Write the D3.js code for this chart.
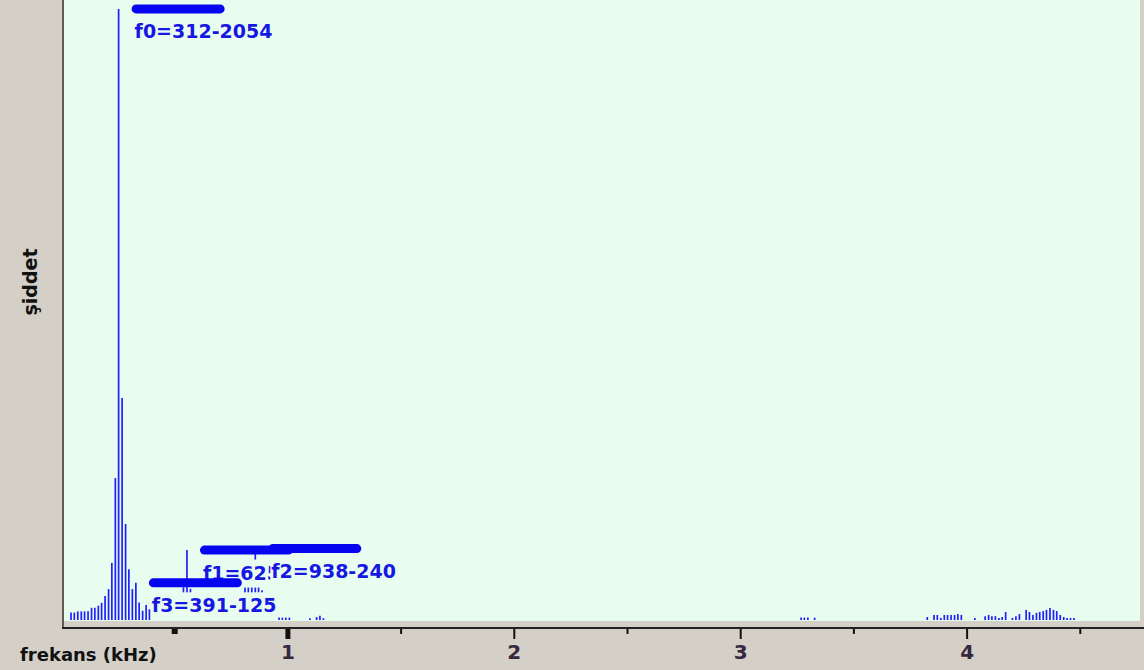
<!DOCTYPE html>
<html>
<head>
<meta charset="utf-8">
<script src="https://cdn.jsdelivr.net/npm/d3@7"></script>
<style>
  html, body { margin: 0; padding: 0; background: #d4d0c8; }
  svg { display: block; }
  text { font-family: "DejaVu Sans", Verdana, sans-serif; font-weight: bold; }
</style>
</head>
<body>
<svg id="chart" width="1144" height="670"></svg>
<script>
// Spectrum bins: frequency (Hz) and intensity of every non-zero bin
const spectrumHz = [
  94, 109, 125, 141, 156, 172, 188, 203, 219, 234, 250, 266, 281, 297, 312, 328,
  344, 359, 375, 391, 406, 422, 438, 453, 469, 484, 500, 516, 531, 547, 562, 578,
  594, 609, 625, 641, 656, 672, 688, 703, 719, 734, 750, 766, 781, 797, 812, 828,
  844, 859, 875, 891, 906, 922, 938, 953, 969, 984, 1000, 1016, 1031, 1047, 1062, 1078,
  1094, 1188, 1219, 1234, 1250,
  3438, 3453, 3469, 3500,
  4016, 4047, 4062, 4078, 4094, 4109, 4125, 4141, 4156, 4172, 4234, 4281, 4297, 4312,
  4328, 4344, 4359, 4375, 4406, 4422, 4438, 4469, 4484, 4500, 4516, 4531, 4547, 4562,
  4578, 4594, 4609, 4625, 4641, 4656, 4672, 4688
];
const spectrumLevel = [
  25, 25, 29, 29, 29, 29, 41, 41, 48, 58, 81, 104, 192, 477, 2054, 746,
  323, 171, 104, 125, 59, 31, 50, 36, 40, 34, 28, 30, 26, 32, 38, 45,
  60, 110, 235, 105, 62, 48, 40, 36, 30, 34, 40, 45, 52, 58, 62, 70,
  76, 80, 90, 118, 122, 130, 240, 118, 100, 60, 45, 32, 20, 8, 8, 8,
  8, 6, 10, 14, 6,
  8, 8, 8, 8,
  10, 17, 17, 7, 17, 17, 17, 17, 20, 17, 7, 13, 17, 13,
  13, 7, 10, 27, 7, 13, 20, 34, 27, 17, 24, 27, 30, 34,
  40, 34, 30, 17, 10, 7, 7, 7
];

// Marked peaks: name, frequency (Hz), intensity
const peakNames = ["f0", "f1", "f2", "f3"];
const peakHz = [312, 625, 938, 391];
const peakLevel = [2054, 235, 240, 125];

// Frequency axis (kHz)
const axisTicks = [0.5, 1, 1.5, 2, 2.5, 3, 3.5, 4, 4.5];

const W = 1144, H = 670;
const mint = "#e8fdf0";
const panel = "#d4d0c8";
const plot = { left: 64, right: 1140, top: 0, bottom: 621 };

const svg = d3.select("#chart");

svg.append("rect").attr("width", W).attr("height", H).attr("fill", panel);
svg.append("rect")
  .attr("x", plot.left).attr("y", plot.top)
  .attr("width", plot.right - plot.left).attr("height", plot.bottom - plot.top)
  .attr("fill", mint);
svg.append("line")
  .attr("x1", 63).attr("x2", 63).attr("y1", 0).attr("y2", 629)
  .attr("stroke", "#5c5c5c").attr("stroke-width", 2);

// Spectrum scales
const x = d3.scaleLinear().domain([0, 5000]).range([50.5, 1142.1]);
const y = d3.scaleLinear().domain([0, 2084]).range([620, 0]);

const bins = d3.zip(spectrumHz, spectrumLevel);
svg.append("g").attr("class", "bars")
  .selectAll("line").data(bins).join("line")
  .attr("x1", d => x(d[0])).attr("x2", d => x(d[0]))
  .attr("y1", y(0)).attr("y2", d => y(d[1]))
  .attr("stroke", "#1f1fff").attr("stroke-width", 1.7);

// Peak markers with their labels
peakNames.forEach((name, i) => {
  const px = x(peakHz[i]);
  const py = y(peakLevel[i]);
  const g = svg.append("g").attr("class", "peak");
  const label = g.append("text")
    .attr("x", px + 16).attr("y", py + 29.5)
    .attr("font-size", 19).attr("fill", "#1717e4")
    .text(`${name}=${peakHz[i]}-${peakLevel[i]}`);
  const bb = label.node().getBBox();
  g.insert("rect", "text")
    .attr("x", bb.x - 1).attr("y", bb.y - 2)
    .attr("width", bb.width + 2).attr("height", bb.height + 6)
    .attr("fill", mint);
  g.insert("line", "text")
    .attr("x1", px + 17.5).attr("x2", px + 101.5)
    .attr("y1", py).attr("y2", py)
    .attr("stroke", "#0505f0").attr("stroke-width", 9)
    .attr("stroke-linecap", "round");
});

// Frequency axis
const axisX = d3.scaleLinear().domain([0, 4.75]).range([61, 1136.4]);
const axis = d3.axisBottom(axisX)
  .tickValues(axisTicks)
  .tickSize(0)
  .tickFormat(d => Number.isInteger(d) ? d : "");
const ax = svg.append("g").attr("transform", "translate(0,628)").call(axis);
ax.select(".domain").remove();
ax.append("line")
  .attr("x1", 62).attr("x2", W).attr("y1", 0).attr("y2", 0)
  .attr("stroke", "#222").attr("stroke-width", 2);
ax.selectAll(".tick line")
  .attr("y2", d => Number.isInteger(d) ? 11 : 6)
  .attr("stroke", "#111")
  .attr("stroke-width", d => (d === 0.5 ? 6 : d === 1 ? 5 : 2));
ax.selectAll(".tick text")
  .attr("y", 31).attr("dy", 0)
  .attr("font-size", 20).attr("font-family", "DejaVu Sans")
  .attr("font-weight", "bold").attr("fill", "#35283f");

svg.append("text")
  .attr("x", 20).attr("y", 661)
  .attr("font-size", 18).attr("fill", "#111")
  .text("frekans (kHz)");

svg.append("text")
  .attr("transform", "translate(37,282) rotate(-90)")
  .attr("text-anchor", "middle")
  .attr("font-size", 19).attr("fill", "#111")
  .text("şiddet");
</script>
</body>
</html>
